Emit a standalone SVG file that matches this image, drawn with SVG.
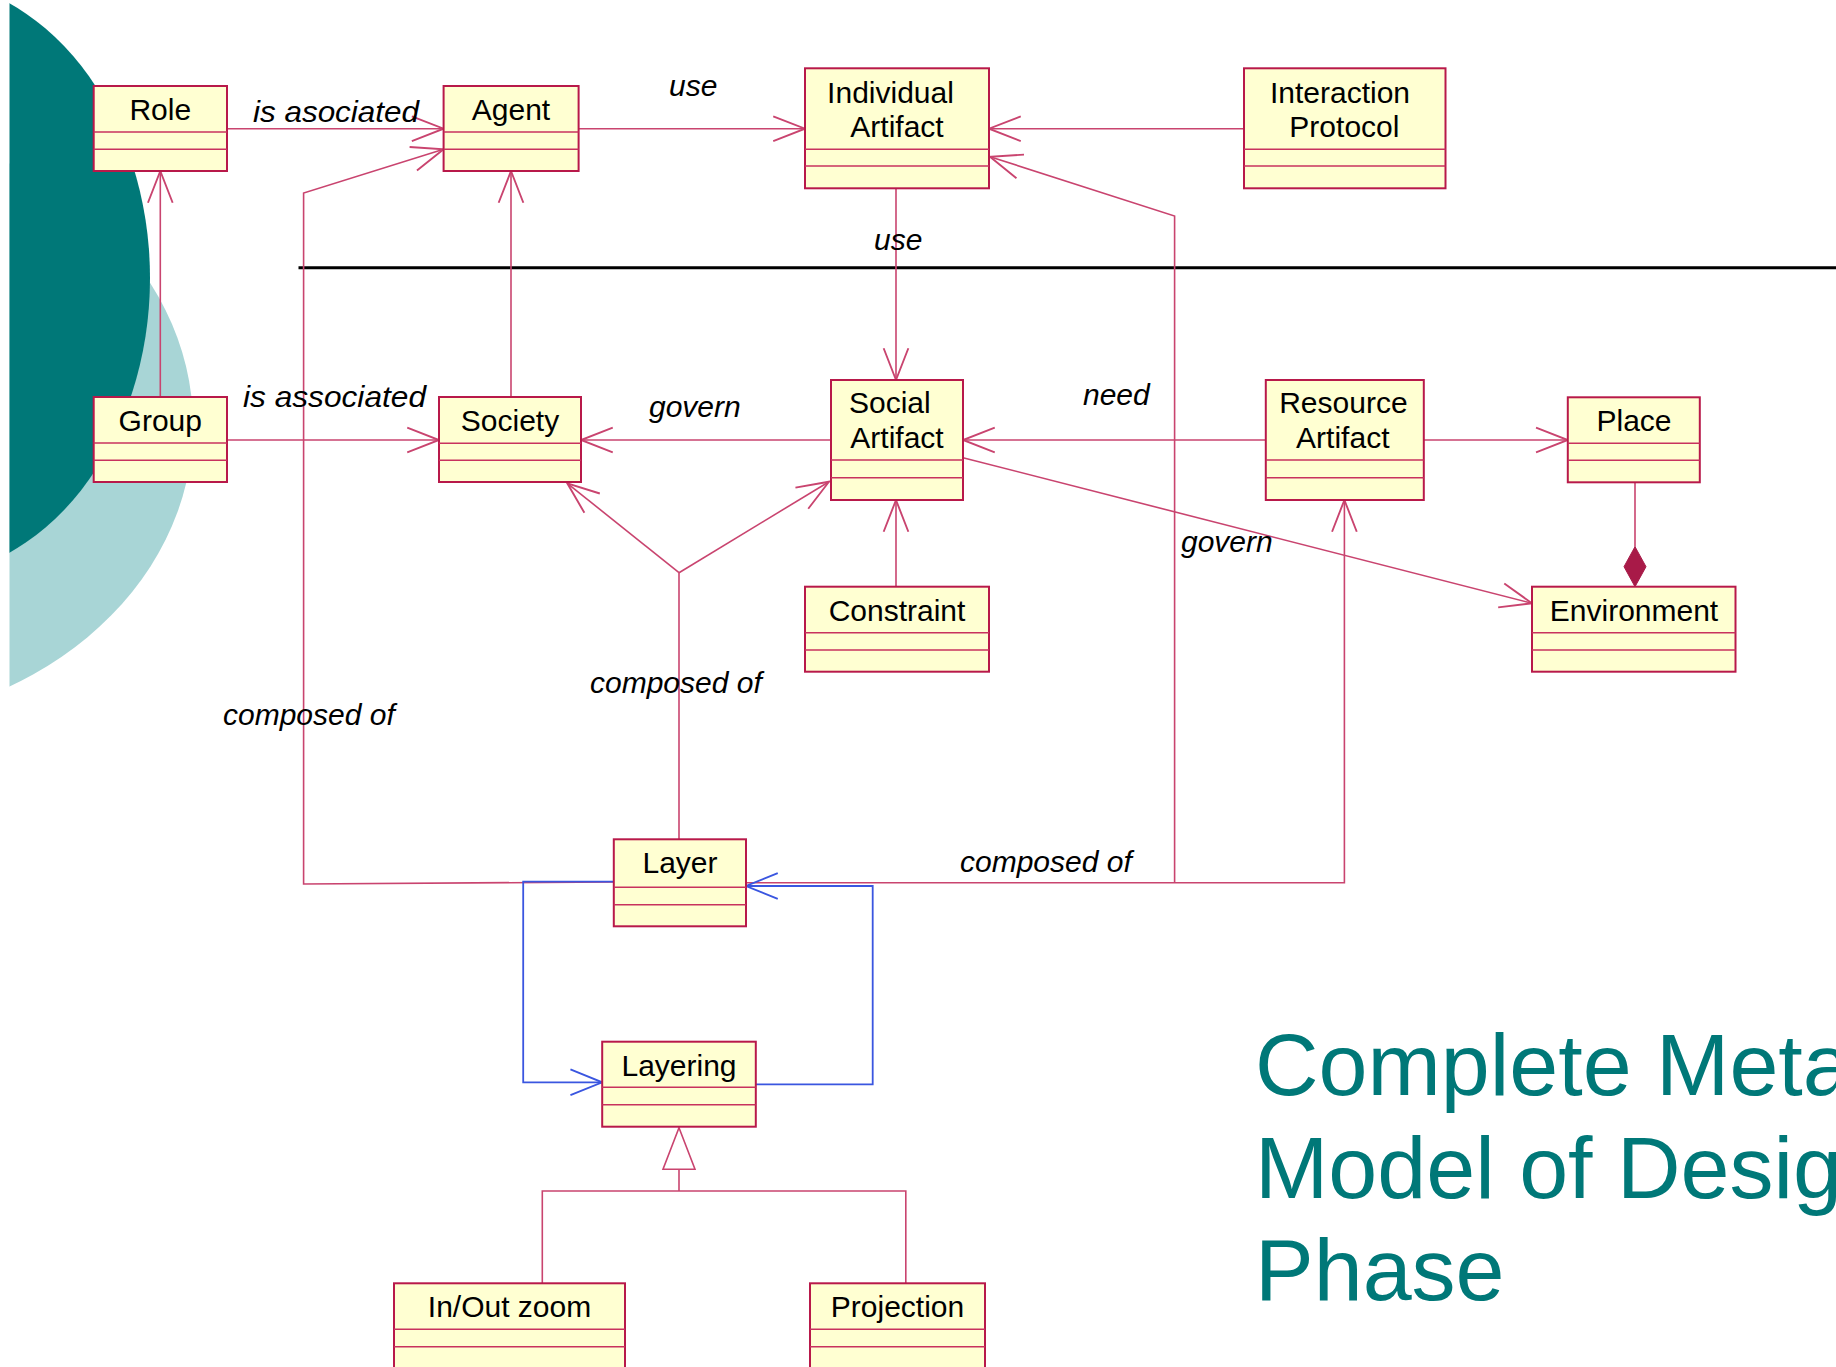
<svg xmlns="http://www.w3.org/2000/svg" width="1836" height="1367" viewBox="0 0 1836 1367">
  <style>
    .box { fill: #ffffd2; stroke: #b8194a; stroke-width: 2; }
    .div { stroke: #c8325e; stroke-width: 1.6; }
    .name { font-family: "Liberation Sans", Arial, sans-serif; font-size: 30px; fill: #000; text-anchor: middle; }
    .lbl { font-family: "Liberation Sans", Arial, sans-serif; font-size: 30px; font-style: italic; fill: #000; }
    .ln { fill: none; stroke: #c9446f; stroke-width: 1.6; }
    .blue { fill: none; stroke: #3a56e0; stroke-width: 1.8; }
    .title { font-family: "Liberation Sans", Arial, sans-serif; font-size: 88px; fill: #007878; }
  </style>
  <defs>
    <marker id="open" markerUnits="userSpaceOnUse" markerWidth="40" markerHeight="40" viewBox="-30 -15 34 30" refX="0" refY="0" orient="auto">
      <path d="M -27 -10.5 L 0 0 L -27 10.5" fill="none" stroke="#c9446f" stroke-width="1.6"/>
    </marker>
    <marker id="openBlue" markerUnits="userSpaceOnUse" markerWidth="40" markerHeight="40" viewBox="-30 -15 34 30" refX="0" refY="0" orient="auto">
      <path d="M -27 -11 L 0 0 L -27 11" fill="none" stroke="#3a56e0" stroke-width="1.6"/>
    </marker>
    <clipPath id="bgClip">
      <rect x="9.5" y="0" width="400" height="800"/>
    </clipPath>
  </defs>

  <rect width="1836" height="1367" fill="#ffffff"/>

  <!-- decorative background discs -->
  <g clip-path="url(#bgClip)">
    <ellipse cx="-167" cy="425" rx="360" ry="300" fill="#a8d5d6"/>
    <ellipse cx="-85" cy="278" rx="235" ry="300" fill="#007878"/>
  </g>

  <!-- separator -->
  <line x1="298.5" y1="267.7" x2="1836" y2="267.7" stroke="#000" stroke-width="3"/>

  <!-- connectors -->
  <g id="connectors">
    <line class="ln" x1="227" y1="128.7" x2="443.6" y2="128.7" marker-end="url(#open)"/>
    <line class="ln" x1="578.5" y1="128.7" x2="805" y2="128.7" marker-end="url(#open)"/>
    <line class="ln" x1="1244" y1="128.7" x2="989" y2="128.7" marker-end="url(#open)"/>
    <line class="ln" x1="160.3" y1="397" x2="160.3" y2="171" marker-end="url(#open)"/>
    <line class="ln" x1="511" y1="397" x2="511" y2="171" marker-end="url(#open)"/>
    <line class="ln" x1="227" y1="440" x2="439" y2="440" marker-end="url(#open)"/>
    <line class="ln" x1="896" y1="188.3" x2="896" y2="380" marker-end="url(#open)"/>
    <line class="ln" x1="831" y1="440" x2="581" y2="440" marker-end="url(#open)"/>
    <line class="ln" x1="1265.8" y1="440" x2="963" y2="440" marker-end="url(#open)"/>
    <line class="ln" x1="1423.7" y1="440" x2="1567.8" y2="440" marker-end="url(#open)"/>
    <line class="ln" x1="963" y1="457.7" x2="1532" y2="603.3" marker-end="url(#open)"/>
    <line class="ln" x1="896" y1="586.7" x2="896" y2="500" marker-end="url(#open)"/>
    <!-- composition Place / Environment -->
    <line class="ln" x1="1635" y1="482.3" x2="1635" y2="546.7"/>
    <path d="M 1635 546.7 L 1646 566.7 L 1635 586.7 L 1624 566.7 Z" fill="#a81a48" stroke="#a81a48" stroke-width="1"/>
    <!-- Layer composed of Society / Social Artifact -->
    <line class="ln" x1="679" y1="839.3" x2="679" y2="572.7"/>
    <line class="ln" x1="679" y1="572.7" x2="567.3" y2="483.3" marker-end="url(#open)"/>
    <line class="ln" x1="679" y1="572.7" x2="829" y2="481.7" marker-end="url(#open)"/>
    <!-- Layer composed of Agent -->
    <polyline class="ln" points="613.8,882 303.6,884 303.6,193 443.6,149.3" marker-end="url(#open)"/>
    <!-- Layer composed of Resource Artifact / Individual Artifact -->
    <polyline class="ln" points="746,882.7 1344.4,882.7 1344.4,500" marker-end="url(#open)"/>
    <polyline class="ln" points="1174.6,882.7 1174.6,216 990,156.7" marker-end="url(#open)"/>
    <!-- Layer / Layering -->
    <polyline class="blue" points="613.8,881.7 523.2,881.7 523.2,1082.3 602.2,1082.3" marker-end="url(#openBlue)"/>
    <polyline class="blue" points="755.8,1084.3 872.7,1084.3 872.7,886 746,886" marker-end="url(#openBlue)"/>
    <!-- generalization -->
    <polyline class="ln" points="542.3,1283.3 542.3,1191 905.8,1191 905.8,1283.3"/>
    <line class="ln" x1="679" y1="1191" x2="679" y2="1169.3"/>
    <path d="M 679 1127.7 L 695 1169.3 L 663 1169.3 Z" fill="#ffffff" stroke="#c9446f" stroke-width="1.6"/>

    <!-- labels -->
    <text class="lbl" x="253" y="121.7" textLength="166" lengthAdjust="spacingAndGlyphs">is asociated</text>
    <text class="lbl" x="669" y="96">use</text>
    <text class="lbl" x="874" y="250">use</text>
    <text class="lbl" x="243" y="406.7" textLength="183" lengthAdjust="spacingAndGlyphs">is associated</text>
    <text class="lbl" x="649" y="416.7">govern</text>
    <text class="lbl" x="1083" y="405">need</text>
    <text class="lbl" x="1181" y="552">govern</text>
    <text class="lbl" x="590" y="693">composed of</text>
    <text class="lbl" x="223" y="725">composed of</text>
    <text class="lbl" x="960" y="872">composed of</text>
  </g>

  <!-- classes -->
  <g id="role">
    <rect class="box" x="93.7" y="86" width="133.3" height="85"/>
    <line class="div" x1="93.7" y1="132" x2="227" y2="132"/>
    <line class="div" x1="93.7" y1="149.3" x2="227" y2="149.3"/>
    <text class="name" x="160.3" y="120">Role</text>
  </g>
  <g id="agent">
    <rect class="box" x="443.6" y="86" width="135" height="85"/>
    <line class="div" x1="443.6" y1="132" x2="578.6" y2="132"/>
    <line class="div" x1="443.6" y1="149.3" x2="578.6" y2="149.3"/>
    <text class="name" x="511" y="120">Agent</text>
  </g>
  <g id="individual-artifact">
    <rect class="box" x="805" y="68.3" width="184" height="120"/>
    <line class="div" x1="805" y1="149.3" x2="989" y2="149.3"/>
    <line class="div" x1="805" y1="166" x2="989" y2="166"/>
    <text class="name" x="890.5" y="103">Individual</text>
    <text class="name" x="897" y="137">Artifact</text>
  </g>
  <g id="interaction-protocol">
    <rect class="box" x="1244" y="68.3" width="201.5" height="120"/>
    <line class="div" x1="1244" y1="149.3" x2="1445.5" y2="149.3"/>
    <line class="div" x1="1244" y1="166" x2="1445.5" y2="166"/>
    <text class="name" x="1340" y="103">Interaction</text>
    <text class="name" x="1344.4" y="137">Protocol</text>
  </g>
  <g id="group">
    <rect class="box" x="93.7" y="397" width="133.3" height="85"/>
    <line class="div" x1="93.7" y1="443" x2="227" y2="443"/>
    <line class="div" x1="93.7" y1="460.3" x2="227" y2="460.3"/>
    <text class="name" x="160.3" y="431">Group</text>
  </g>
  <g id="society">
    <rect class="box" x="439" y="397" width="142" height="85"/>
    <line class="div" x1="439" y1="443.3" x2="581" y2="443.3"/>
    <line class="div" x1="439" y1="460.3" x2="581" y2="460.3"/>
    <text class="name" x="510" y="431">Society</text>
  </g>
  <g id="social-artifact">
    <rect class="box" x="831" y="380" width="132" height="120"/>
    <line class="div" x1="831" y1="460" x2="963" y2="460"/>
    <line class="div" x1="831" y1="477.7" x2="963" y2="477.7"/>
    <text class="name" x="849" y="413" style="text-anchor:start">Social</text>
    <text class="name" x="897" y="448">Artifact</text>
  </g>
  <g id="resource-artifact">
    <rect class="box" x="1265.8" y="380" width="158" height="120"/>
    <line class="div" x1="1265.8" y1="460" x2="1423.8" y2="460"/>
    <line class="div" x1="1265.8" y1="477.7" x2="1423.8" y2="477.7"/>
    <text class="name" x="1343.4" y="413">Resource</text>
    <text class="name" x="1342.8" y="448">Artifact</text>
  </g>
  <g id="place">
    <rect class="box" x="1567.8" y="397.3" width="132" height="85"/>
    <line class="div" x1="1567.8" y1="443.3" x2="1699.8" y2="443.3"/>
    <line class="div" x1="1567.8" y1="460.3" x2="1699.8" y2="460.3"/>
    <text class="name" x="1634" y="431">Place</text>
  </g>
  <g id="constraint">
    <rect class="box" x="805" y="586.7" width="184" height="85"/>
    <line class="div" x1="805" y1="632.7" x2="989" y2="632.7"/>
    <line class="div" x1="805" y1="650" x2="989" y2="650"/>
    <text class="name" x="897" y="621">Constraint</text>
  </g>
  <g id="environment">
    <rect class="box" x="1532" y="586.7" width="203.5" height="85"/>
    <line class="div" x1="1532" y1="632.7" x2="1735.5" y2="632.7"/>
    <line class="div" x1="1532" y1="650" x2="1735.5" y2="650"/>
    <text class="name" x="1634" y="621">Environment</text>
  </g>
  <g id="layer">
    <rect class="box" x="613.8" y="839.3" width="132.2" height="87"/>
    <line class="div" x1="613.8" y1="887.3" x2="746" y2="887.3"/>
    <line class="div" x1="613.8" y1="904.7" x2="746" y2="904.7"/>
    <text class="name" x="680" y="872.7">Layer</text>
  </g>
  <g id="layering">
    <rect class="box" x="602.2" y="1041.7" width="153.6" height="85"/>
    <line class="div" x1="602.2" y1="1087.3" x2="755.8" y2="1087.3"/>
    <line class="div" x1="602.2" y1="1104.7" x2="755.8" y2="1104.7"/>
    <text class="name" x="679" y="1076">Layering</text>
  </g>
  <g id="in-out-zoom">
    <rect class="box" x="394" y="1283.3" width="231" height="100"/>
    <line class="div" x1="394" y1="1329.3" x2="625" y2="1329.3"/>
    <line class="div" x1="394" y1="1346.7" x2="625" y2="1346.7"/>
    <text class="name" x="509.5" y="1316.7">In/Out zoom</text>
  </g>
  <g id="projection">
    <rect class="box" x="810" y="1283.3" width="175" height="100"/>
    <line class="div" x1="810" y1="1329.3" x2="985" y2="1329.3"/>
    <line class="div" x1="810" y1="1346.7" x2="985" y2="1346.7"/>
    <text class="name" x="897.5" y="1316.7">Projection</text>
  </g>

  <!-- title, running past the right edge of the slide -->
  <g id="title">
    <text class="title" x="1255" y="1095">Complete Meta</text>
    <text class="title" x="1255" y="1197.7">Model of Design</text>
    <text class="title" x="1255" y="1300">Phase</text>
  </g>
</svg>
